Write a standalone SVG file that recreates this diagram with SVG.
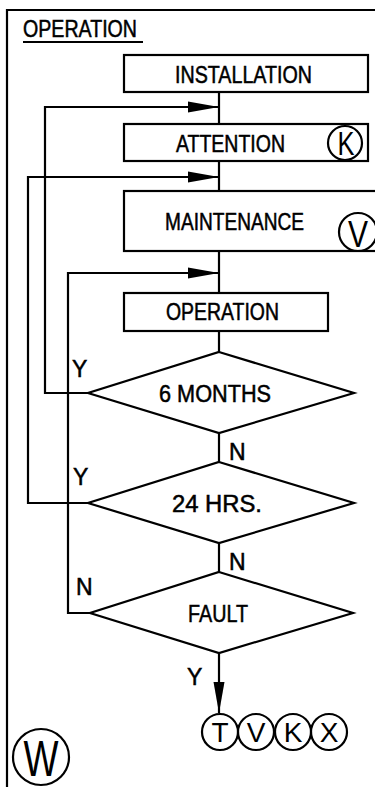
<svg xmlns="http://www.w3.org/2000/svg" width="375" height="787" viewBox="0 0 375 787">
<style>
.s{fill:none;stroke:#000;stroke-width:2.2}
.b{fill:#fff;stroke:#000;stroke-width:2.2}
.t{font-family:"Liberation Sans",Arial,sans-serif;font-size:23px;fill:#000;stroke:#000;stroke-width:0.5}
.c{font-family:"Liberation Sans",Arial,sans-serif;font-size:28px;fill:#000;text-anchor:middle}
</style>
<defs>
<marker id="ah" markerUnits="userSpaceOnUse" markerWidth="32" markerHeight="12" refX="31" refY="6" orient="auto">
<path d="M0,0.5 L31,6 L0,11.5 z" fill="#000"/>
</marker>
</defs>
<rect width="375" height="787" fill="#fff"/>
<g id="frame">
<path class="s" d="M7,787 V10 H375"/>
<text class="t" x="23" y="37" textLength="114" lengthAdjust="spacingAndGlyphs">OPERATION</text>
<line class="s" x1="23" y1="42" x2="143" y2="42"/>
</g>
<g id="connectors">
<path class="s" d="M219,93 V124 M219,161 V191 M219,251 V293 M219,331 V352 M219,433 V462 M219,543 V572"/>
<path class="s" d="M88,393 H45 V107 H219" marker-end="url(#ah)"/>
<path class="s" d="M88,503 H28 V177 H219" marker-end="url(#ah)"/>
<path class="s" d="M90,613 H68 V273 H219" marker-end="url(#ah)"/>
<path class="s" d="M219,653 V713" marker-end="url(#ah)"/>
<text class="t" x="72" y="377">Y</text>
<text class="t" x="229" y="460">N</text>
<text class="t" x="73" y="485">Y</text>
<text class="t" x="229" y="570">N</text>
<text class="t" x="76" y="595">N</text>
<text class="t" x="187" y="685">Y</text>
</g>
<g id="installation">
<rect class="b" x="124" y="55" width="244" height="37"/>
<text class="t" x="175" y="83" textLength="137" lengthAdjust="spacingAndGlyphs">INSTALLATION</text>
</g>
<g id="attention">
<rect class="b" x="124" y="124" width="244" height="37"/>
<text class="t" x="176" y="152" textLength="109" lengthAdjust="spacingAndGlyphs">ATTENTION</text>
<circle class="s" cx="345" cy="143" r="17"/>
<text class="c" x="346" y="155" textLength="17" lengthAdjust="spacingAndGlyphs" style="font-size:34px">K</text>
</g>
<g id="maintenance">
<rect class="b" x="124" y="191" width="262" height="60"/>
<text class="t" x="165" y="230" textLength="139" lengthAdjust="spacingAndGlyphs">MAINTENANCE</text>
<circle class="s" cx="358" cy="232" r="19"/>
<text class="c" x="358" y="247" textLength="20" lengthAdjust="spacingAndGlyphs" style="font-size:37px">V</text>
</g>
<g id="operation">
<rect class="b" x="124" y="293" width="204" height="38"/>
<text class="t" x="166" y="320" textLength="113" lengthAdjust="spacingAndGlyphs">OPERATION</text>
</g>
<g id="six-months">
<path class="b" d="M219,352 L354,393 L219,433 L88,393 Z"/>
<text class="t" x="159" y="402" textLength="112" lengthAdjust="spacingAndGlyphs">6  MONTHS</text>
</g>
<g id="24-hrs">
<path class="b" d="M219,462 L354,503 L219,543 L88,503 Z"/>
<text class="t" x="172" y="512" textLength="90" lengthAdjust="spacingAndGlyphs">24  HRS.</text>
</g>
<g id="fault">
<path class="b" d="M219,572 L353,613 L219,653 L90,613 Z"/>
<text class="t" x="188" y="622" textLength="60" lengthAdjust="spacingAndGlyphs">FAULT</text>
</g>
<g id="refs">
<circle class="s" cx="220" cy="732" r="18"/>
<text class="c" x="220" y="742">T</text>
<circle class="s" cx="256" cy="732" r="18"/>
<text class="c" x="256" y="742">V</text>
<circle class="s" cx="293" cy="732" r="18"/>
<text class="c" x="293" y="742">K</text>
<circle class="s" cx="329" cy="732" r="18"/>
<text class="c" x="329" y="742">X</text>
</g>
<g id="w">
<circle class="s" cx="41" cy="757" r="28"/>
<text class="c" x="41" y="776" textLength="35" lengthAdjust="spacingAndGlyphs" style="font-size:50px">W</text>
</g>
</svg>
